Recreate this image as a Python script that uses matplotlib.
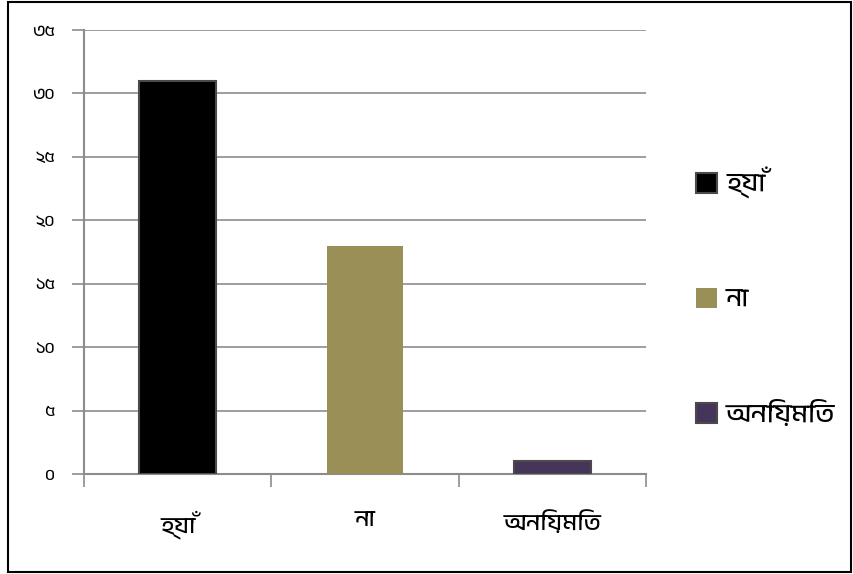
import matplotlib
matplotlib.use("Agg")
import matplotlib.pyplot as plt
from matplotlib import font_manager
from matplotlib.patches import Rectangle

categories = ["হ্যাঁ", "না", "অনিয়মিত"]
values = [31, 18, 1]
bar_colors = ["#000000", "#9b8f58", "#46355a"]
edge_colors = ["#4a4a4a", "none", "#4a4a4a"]
y_ticks = [0, 5, 10, 15, 20, 25, 30, 35]
y_tick_labels = ["০", "৫", "১০", "১৫", "২০", "২৫", "৩০", "৩৫"]

# pick a font with Bengali glyphs if one happens to exist
names = sorted({f.name for f in font_manager.fontManager.ttflist})
beng = [n for n in names if "Bengali" in n or "Bangla" in n or "Lohit" in n]
families = beng + ["DejaVu Sans"]
plt.rcParams["font.family"] = families

fig = plt.figure(figsize=(8.54, 5.74), dpi=100)
ax = fig.add_axes([0.0984, 0.1742, 0.6580, 0.7735])

x = range(len(categories))
for i, (v, c, e) in enumerate(zip(values, bar_colors, edge_colors)):
    ax.bar(i, v, width=0.41, color=c, edgecolor=e, linewidth=1.5 if e != "none" else 0,
           zorder=3)

ax.set_xlim(-0.5, 2.5)
ax.set_ylim(0, 35)
ax.set_yticks(y_ticks)
ax.set_yticklabels(y_tick_labels, fontsize=12)
ax.set_xticks(list(x))
ax.set_xticklabels(categories, fontsize=17)
ax.tick_params(axis="x", length=0, pad=26)
ax.tick_params(axis="y", length=9, width=1.2, color="#8c8c8c", pad=12)
# category boundary ticks
ax.set_xticks([-0.5, 0.5, 1.5, 2.5], minor=True)
ax.tick_params(axis="x", which="minor", length=9, width=1.2, color="#8c8c8c")

ax.grid(axis="y", color="#8c8c8c", linewidth=1.2, zorder=0)
for s in ["top", "right"]:
    ax.spines[s].set_visible(False)
for s in ["left", "bottom"]:
    ax.spines[s].set_color("#8c8c8c")
    ax.spines[s].set_linewidth(1.5)

handles = [Rectangle((0, 0), 1, 1, facecolor=c, edgecolor=e, linewidth=1.5)
           for c, e in zip(bar_colors, edge_colors)]
fig.legend(handles, categories, loc="center left", bbox_to_anchor=(0.787, 0.483),
           frameon=False, fontsize=19, labelspacing=3.35, handlelength=0.8,
           handleheight=0.8, handletextpad=0.35)

# outer border
fig.patches.append(Rectangle((0.009, 0.003), 0.988, 0.994, transform=fig.transFigure,
                             fill=False, edgecolor="black", linewidth=1.5))

fig.savefig("out.png", dpi=100)
